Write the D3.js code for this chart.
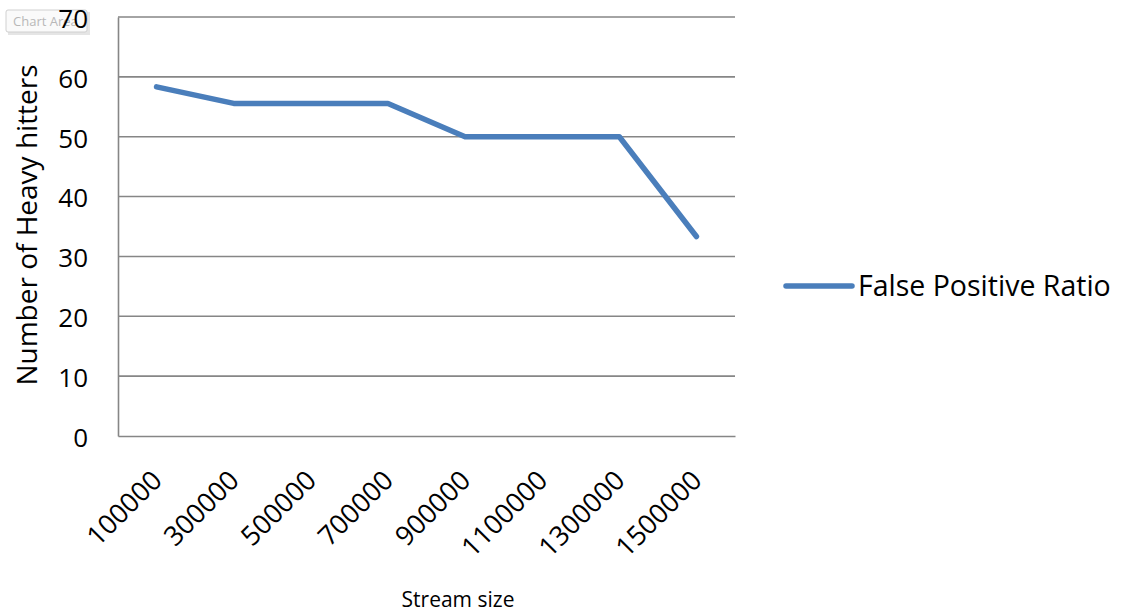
<!DOCTYPE html>
<html>
<head>
<meta charset="utf-8">
<script src="https://cdn.jsdelivr.net/npm/d3@7"></script>
<style>
  body { margin: 0; background: #fff; }
  svg { display: block; font-family: "Open Sans", "Noto Sans", sans-serif; }
</style>
</head>
<body>
<svg id="chart" width="1123" height="614"></svg>
<script>
// Stream sizes on the category axis
const categories = ["100000", "300000", "500000", "700000", "900000", "1100000", "1300000", "1500000"];
// False positive ratio per stream size
const falsePositiveRatio = [58.33, 55.56, 55.56, 55.56, 50, 50, 50, 33.33];
// Value axis ticks
const yTicks = [0, 10, 20, 30, 40, 50, 60, 70];
const seriesName = "False Positive Ratio";

const svg = d3.select("#chart");
const plot = { left: 118, right: 735, top: 17, bottom: 436 };

const x = d3.scaleBand().domain(categories).range([plot.left, plot.right]);
const y = d3.scaleLinear().domain([0, 70]).range([plot.bottom, plot.top]);

// Selection tooltip box at the top left (sits under the axis labels)
const tip = svg.append("g").attr("transform", "translate(6,10)");
tip.append("rect").attr("x", 2).attr("y", 2).attr("width", 82).attr("height", 23)
  .attr("fill", "#d4d4d4").attr("opacity", 0.6);
tip.append("rect").attr("width", 81).attr("height", 22).attr("rx", 2)
  .attr("fill", "#fafafa").attr("stroke", "#d0d0d0");
tip.append("text").attr("x", 7).attr("y", 16)
  .attr("font-size", 13).attr("fill", "#b8b8b8")
  .text("Chart Area");

// Horizontal gridlines
svg.append("g")
  .selectAll("line")
  .data(yTicks.filter(d => d > 0))
  .join("line")
  .attr("x1", plot.left).attr("x2", plot.right)
  .attr("y1", d => y(d)).attr("y2", d => y(d))
  .attr("stroke", "#868686").attr("stroke-width", 1.6);

// Value axis
const yAxis = svg.append("g")
  .attr("transform", `translate(${plot.left},0)`)
  .call(d3.axisLeft(y).tickValues(yTicks).tickSize(0).tickPadding(30));
yAxis.select(".domain").attr("stroke", "#868686").attr("stroke-width", 1.6);
yAxis.selectAll("text")
  .attr("font-size", 26).attr("fill", "#000")
  .attr("dy", "0.4em")
  .attr("font-family", "'Open Sans', sans-serif");

// Category axis
const xAxis = svg.append("g")
  .attr("transform", `translate(0,${plot.bottom})`)
  .call(d3.axisBottom(x).tickSize(0).tickPadding(0));
xAxis.select(".domain").attr("stroke", "#868686").attr("stroke-width", 1.6);
xAxis.selectAll("text")
  .attr("font-size", 27).attr("fill", "#000")
  .attr("font-family", "'Open Sans', sans-serif")
  .attr("text-anchor", "end")
  .attr("dy", 0)
  .attr("transform", "translate(7,46) rotate(-45)");

// Series line
svg.append("path")
  .datum(falsePositiveRatio)
  .attr("fill", "none")
  .attr("stroke", "#4a7ebb")
  .attr("stroke-width", 5.5)
  .attr("stroke-linecap", "round")
  .attr("stroke-linejoin", "round")
  .attr("d", d3.line()
    .x((d, i) => x(categories[i]) + x.bandwidth() / 2)
    .y(d => y(d)));

// Axis titles
svg.append("text")
  .attr("transform", "translate(37,225) rotate(-90)")
  .attr("text-anchor", "middle")
  .attr("font-size", 28)
  .text("Number of Heavy hitters");

svg.append("text")
  .attr("x", 458).attr("y", 607)
  .attr("text-anchor", "middle")
  .attr("font-size", 21)
  .text("Stream size");

// Legend
const legend = svg.append("g").attr("transform", "translate(786,286)");
legend.append("line")
  .attr("x1", 0).attr("x2", 66).attr("y1", 0).attr("y2", 0)
  .attr("stroke", "#4a7ebb").attr("stroke-width", 5.5).attr("stroke-linecap", "round");
legend.append("text")
  .attr("x", 72).attr("y", 10)
  .attr("font-size", 28.5)
  .text(seriesName);
</script>
</body>
</html>
